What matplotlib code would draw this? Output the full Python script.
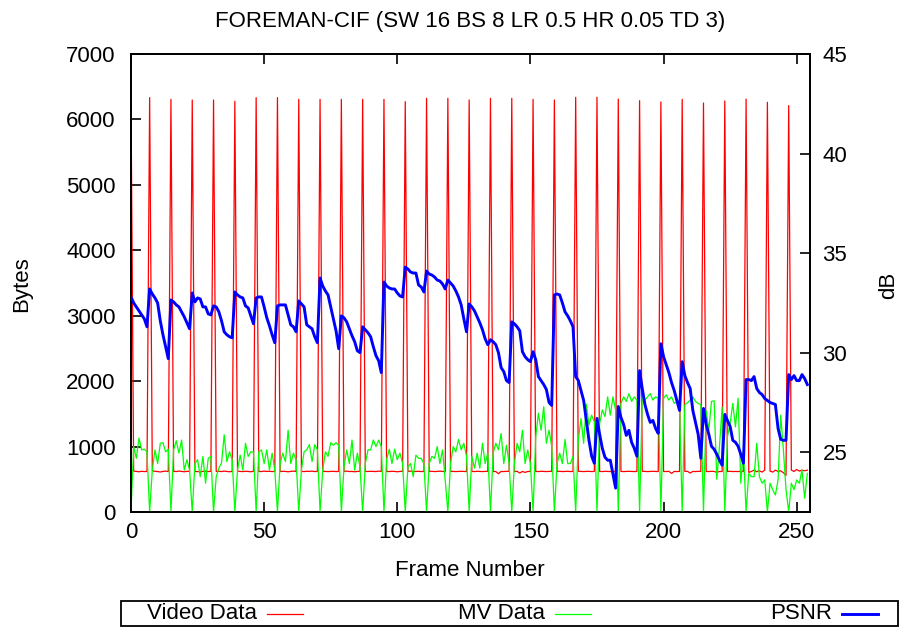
import matplotlib
matplotlib.use("Agg")
import matplotlib.pyplot as plt
from matplotlib.lines import Line2D

plt.rcParams['font.family'] = ['Liberation Sans', 'DejaVu Sans']

title = "FOREMAN-CIF (SW 16 BS 8 LR 0.5 HR 0.05 TD 3)"
x_label = "Frame Number"
y_label = "Bytes"
y2_label = "dB"
series_names = ["Video Data", "MV Data", "PSNR"]

x_ticks = [0, 50, 100, 150, 200, 250]
y_ticks = [0, 1000, 2000, 3000, 4000, 5000, 6000, 7000]
y2_ticks = [25, 30, 35, 40, 45]

# Video data (bytes), frames 0..254; rows: frames 0-6, then groups of 8 starting at I-frames 7, 15, ...
video_data = [
    6300, 625, 620, 615, 622, 618, 620,
    6333, 630, 622, 618, 612, 620, 625, 618,
    6307, 622, 618, 625, 620, 615, 622, 620,
    6297, 620, 618, 615, 620, 625, 618, 622,
    6297, 620, 622, 618, 625, 620, 615, 620,
    6277, 625, 620, 618, 622, 620, 615, 622,
    6333, 620, 618, 625, 620, 622, 618, 620,
    6333, 618, 622, 620, 615, 620, 625, 620,
    6307, 620, 618, 622, 620, 625, 618, 620,
    6307, 622, 620, 618, 620, 622, 618, 620,
    6307, 620, 625, 618, 620, 615, 620, 622,
    6307, 618, 620, 622, 620, 618, 625, 620,
    6307, 620, 618, 622, 620, 615, 620, 622,
    6272, 620, 625, 618, 620, 622, 618, 620,
    6323, 620, 622, 618, 620, 625, 620, 618,
    6323, 622, 620, 618, 620, 622, 620, 618,
    6297, 620, 618, 622, 620, 618, 620, 622,
    6323, 620, 618, 585, 620, 618, 622, 620,
    6323, 620, 622, 595, 620, 605, 620, 618,
    6307, 620, 618, 622, 620, 618, 620, 622,
    6297, 620, 622, 618, 620, 622, 618, 620,
    6338, 622, 620, 618, 620, 622, 618, 620,
    6338, 620, 618, 622, 620, 618, 620, 622,
    6312, 620, 618, 620, 622, 620, 618, 620,
    6287, 622, 620, 618, 620, 622, 620, 618,
    6267, 620, 618, 622, 590, 620, 618, 620,
    6307, 620, 622, 595, 620, 618, 622, 620,
    6251, 620, 618, 622, 620, 605, 620, 618,
    6282, 620, 622, 618, 620, 618, 622, 620,
    6312, 605, 620, 640, 615, 630, 610, 640,
    6262, 625, 610, 640, 620, 630, 600, 560,
    6211, 640, 620, 650, 625, 640, 630, 640,
]

# Motion-vector data (bytes)
mv_data = [
    0, 1000, 820, 1130, 950, 960, 920,
    0, 640, 950, 740, 1050, 1060, 920, 960,
    0, 950, 1090, 900, 1100, 640, 800, 640,
    0, 740, 800, 540, 850, 440, 820, 850,
    0, 540, 670, 750, 1180, 770, 920, 800,
    0, 640, 870, 640, 1050, 850, 920, 920,
    0, 920, 950, 740, 950, 640, 900, 640,
    0, 740, 900, 770, 1250, 740, 900, 800,
    0, 640, 920, 950, 1030, 770, 1030, 950,
    0, 640, 920, 850, 1060, 1020, 1060, 1020,
    0, 690, 950, 740, 1100, 640, 900, 690,
    0, 740, 950, 950, 1100, 1000, 1100, 1000,
    0, 800, 960, 740, 960, 800, 900, 740,
    0, 690, 740, 540, 870, 820, 820, 740,
    0, 740, 850, 820, 1000, 740, 950, 490,
    0, 740, 1000, 920, 1110, 950, 1050, 850,
    0, 850, 670, 900, 670, 1050, 740, 900,
    0, 900, 1050, 950, 1200, 740, 1020, 740,
    0, 740, 1050, 920, 1250, 740, 950, 740,
    0, 1150, 1510, 1250, 1610, 1050, 1250, 1000,
    0, 740, 900, 740, 1110, 740, 740, 850,
    0, 1100, 1430, 1050, 1650, 1330, 1480, 1380,
    0, 1350, 1560, 1460, 1760, 1480, 1760, 1560,
    0, 1660, 1760, 1690, 1810, 1690, 1760, 1710,
    0, 1760, 1710, 1760, 1810, 1710, 1760, 1740,
    0, 1740, 1790, 1710, 1760, 1660, 1690, 1610,
    0, 1640, 1670, 1710, 1760, 1690, 1660, 1640,
    0, 1550, 1250, 1690, 1700, 500, 1000, 1600,
    0, 1150, 1350, 1660, 1300, 1740, 440, 950,
    0, 590, 540, 540, 1050, 540, 440, 490,
    0, 440, 340, 260, 490, 1480, 950, 340,
    0, 440, 340, 490, 440, 640, 210, 590,
]

# PSNR (dB)
psnr_data = [
    32.8, 32.5, 32.3, 32.1, 31.9, 31.7, 31.3,
    33.2, 32.95, 32.75, 32.5, 31.6, 30.9, 30.3, 29.7,
    32.65, 32.55, 32.4, 32.3, 32.05, 31.8, 31.5, 31.2,
    33.0, 32.55, 32.75, 32.7, 32.3, 32.3, 31.95, 31.9,
    32.35, 32.3, 32.05, 31.6, 31.05, 30.9, 30.8, 30.75,
    33.05, 32.9, 32.8, 32.75, 32.35, 32.25, 31.85, 31.45,
    32.75, 32.8, 32.8, 32.3, 31.75, 31.35, 30.9, 30.5,
    32.35, 32.4, 32.4, 32.4, 31.9, 31.4, 31.3, 31.05,
    32.6, 32.45, 32.3, 31.4, 31.3, 31.2, 30.8, 30.5,
    33.75, 33.35, 33.1, 32.9, 32.3, 31.7, 31.1, 30.2,
    31.85, 31.75, 31.55, 31.2, 30.85, 30.55, 30.1, 30.0,
    31.3, 31.15, 31.0, 30.8, 30.3, 29.85, 29.6, 29.0,
    33.55, 33.35, 33.25, 33.2, 33.2, 33.0, 32.85, 32.8,
    34.3, 34.2, 34.05, 34.0, 34.0, 33.4, 33.3, 33.05,
    34.1, 33.95, 33.9, 33.8, 33.65, 33.6, 33.45, 33.2,
    33.65, 33.5, 33.35, 33.1, 32.8, 32.4, 31.7, 31.05,
    32.45, 32.3, 32.1, 31.8, 31.5, 31.15, 30.7, 30.4,
    30.65, 30.55, 30.4, 30.0, 29.25, 29.05, 28.6, 28.5,
    31.55, 31.45, 31.3, 31.1, 30.05, 29.8, 29.65, 29.55,
    30.05, 29.65, 28.8, 28.6, 28.4, 28.15, 27.5, 27.35,
    32.9, 32.95, 32.9, 32.5, 32.05, 31.85, 31.6, 31.3,
    28.8, 28.6, 28.1, 27.6, 26.6, 25.6, 24.8, 24.45,
    26.7, 25.9, 25.2, 24.75, 24.6, 24.6, 23.9, 23.2,
    27.3, 26.75, 26.4, 25.85, 26.1, 25.5, 25.2, 24.8,
    29.1, 28.2, 27.4, 26.9, 26.5, 26.6, 26.2, 25.95,
    30.45, 29.8, 29.4, 29.0, 28.5, 28.1, 27.6, 27.1,
    29.55, 28.85, 28.5, 28.2, 27.1, 26.5, 25.9, 24.7,
    27.2, 26.4, 25.9, 25.3, 25.15, 24.9, 24.6, 24.35,
    26.9, 26.6, 26.3, 25.6, 25.5, 25.3, 24.9, 24.45,
    28.65, 28.65, 28.6, 28.8, 28.2, 28.0, 27.9, 27.7,
    27.6, 27.5, 27.45, 27.4, 26.2, 25.65, 25.6, 25.6,
    28.9, 28.65, 28.85, 28.6, 28.6, 28.9, 28.7, 28.4,
]

frames = list(range(len(video_data)))

W, H = 902, 628
fig = plt.figure(figsize=(W / 100, H / 100), dpi=100)

def fx(px):
    return px / W

def fy(py):
    return 1 - py / H

L, R, T, B = 131, 810, 54, 512
ax = fig.add_axes([fx(L), fy(B), fx(R - L), (B - T) / H])
ax2 = ax.twinx()

c_video, c_mv, c_psnr = '#ff0000', '#00ff00', '#0000ff'
lw_thin, lw_thick = 0.9, 2.1

ax.plot(frames, video_data, color=c_video, lw=lw_thin, zorder=2)
ax.plot(frames, mv_data, color=c_mv, lw=lw_thin, zorder=3)
ax2.plot(frames, psnr_data, color=c_psnr, lw=lw_thick, zorder=4)

ax.set_xlim(0, 255)
ax.set_ylim(0, 7000)
ax2.set_ylim(22, 45)
ax.set_xticks(x_ticks)
ax.set_yticks(y_ticks)
ax2.set_yticks(y2_ticks)

fs = 16
for a in (ax, ax2):
    for s in a.spines.values():
        s.set_linewidth(1.3)
        s.set_color('black')
ax.tick_params(axis='x', direction='in', length=7, width=1.2, top=True,
               labelsize=fs, pad=7)
ax.tick_params(axis='y', direction='in', length=7, width=1.2, right=False,
               labelsize=fs, pad=11)
ax2.tick_params(axis='y', direction='in', length=7, width=1.2,
                labelsize=fs, pad=9)

fig.text(fx(470), fy(22), title, ha='center', va='center', fontsize=fs)
fig.text(fx(470), fy(570), x_label, ha='center', va='center', fontsize=fs)
fig.text(fx(22), fy(284), y_label, ha='center', va='center', rotation=90, fontsize=fs)
fig.text(fx(889), fy(285), y2_label, ha='center', va='center', rotation=90, fontsize=fs)

# legend box
box = plt.Rectangle((fx(121), fy(626)), fx(898 - 121), (626 - 601) / H,
                    transform=fig.transFigure, fill=False, lw=1.3, ec='black')
fig.add_artist(box)
colors = [c_video, c_mv, c_psnr]
widths = [lw_thin, lw_thin, lw_thick]
text_right = [257, 545, 832]
for name, c, lw, tr in zip(series_names, colors, widths, text_right):
    fig.text(fx(tr), fy(613.5), name, ha='right', va='center', fontsize=fs)
    fig.add_artist(Line2D([fx(tr + 10), fx(tr + 46)], [fy(613.5), fy(613.5)],
                          transform=fig.transFigure, color=c, lw=lw))

fig.savefig("out.png", dpi=100)
